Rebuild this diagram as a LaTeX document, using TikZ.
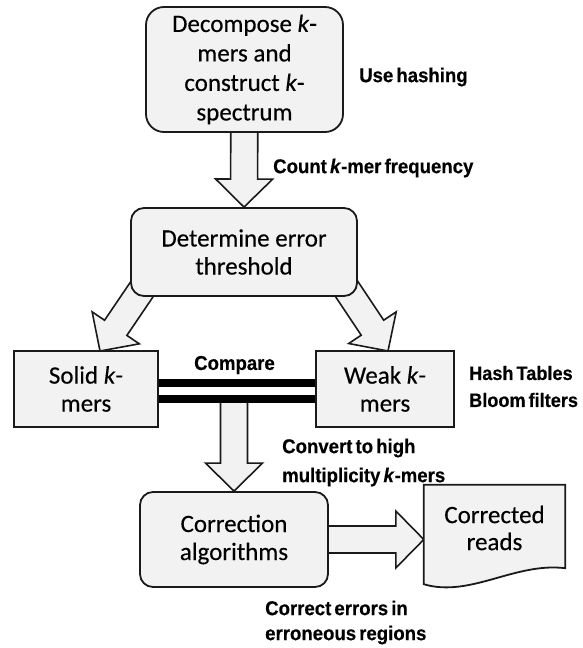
\documentclass[tikz,border=0pt]{standalone}
\usepackage{fontspec}
\setmainfont[FakeBold=0.3]{Carlito}
\newfontfamily\lblfont[FakeStretch=0.93,WordSpace=0.6,FakeBold=0.4]{Liberation Sans}
\usetikzlibrary{calc}
\definecolor{boxfill}{HTML}{F2F2F2}
\definecolor{edge}{HTML}{1A1A1A}
\pgfdeclarelayer{back}
\pgfsetlayers{back,main}

\tikzset{
  stage/.style={draw=edge, fill=boxfill, line width=1.8pt, align=center,
    font=\fontsize{25}{28}\selectfont, inner sep=0pt},
  roundstage/.style={stage, rounded corners=13pt},
  note/.style={font=\lblfont\bfseries\fontsize{20}{27}\selectfont, align=left,
    inner sep=0pt, anchor=west},
  fatarrow/.style={draw=edge, fill=boxfill, line width=1.6pt, line join=miter},
  bar/.style={line width=8pt, draw=black},
}

% hollow block arrow from #1 (tail) to #2 (tip)
\newcommand\blockarrow[2]{%
  \coordinate (ba-base) at ($(#2)!28pt!(#1)$);
  \draw[fatarrow] ($(#1)!13.5pt!90:(#2)$) -- ($(ba-base)!13.5pt!90:(#2)$)
    -- ($(ba-base)!28.5pt!90:(#2)$) -- (#2) -- ($(ba-base)!28.5pt!-90:(#2)$)
    -- ($(ba-base)!13.5pt!-90:(#2)$) -- ($(#1)!13.5pt!-90:(#2)$) -- cycle;
}

\begin{document}
\begin{tikzpicture}[x=1pt,y=-1pt]
\useasboundingbox (0,0) rectangle (582,648);

% process stages
\node[roundstage, rounded corners=18pt, minimum width=197pt, minimum height=125pt,
  font=\fontsize{25}{29.5}\selectfont] (decomp) at (244.5,69.5)
  {Decompose \textit{k}-\\mers and\\construct \textit{k}-\\spectrum};
\node[roundstage, minimum width=226pt, minimum height=88pt] (thresh) at (244,252)
  {Determine error\\threshold};
\node[stage, minimum width=144pt, minimum height=76pt] (solid) at (86,389)
  {Solid \textit{k}-\\mers};
\node[stage, minimum width=138pt, minimum height=76pt] (weak) at (385,389)
  {Weak \textit{k}-\\mers};
\node[roundstage, minimum width=188pt, minimum height=95pt] (corr) at (234,539.5)
  {Correction\\algorithms};
\node[align=center, font=\fontsize{25}{27}\selectfont, inner sep=0pt,
  minimum width=141pt, minimum height=86pt] (reads) at (494.5,528)
  {Corrected\\reads};

% side notes
\node[note] (hashing) at (359,77) {Use hashing};
\node[note] (count) at (273,168) {Count \textit{k}-mer frequency};
\node[note, anchor=center] (compare) at (234.5,365) {Compare};
\node[note, font=\lblfont\bfseries\fontsize{19.5}{27}\selectfont] (tables) at (469,386.5)
  {Hash Tables\\Bloom filters};
\node[note, font=\lblfont\bfseries\fontsize{20}{29}\selectfont] (convert) at (282,462.5)
  {Convert to high\\multiplicity \textit{k}-mers};
\node[note, font=\lblfont\bfseries\fontsize{20}{25}\selectfont] (fix) at (265,622.5)
  {Correct errors in\\erroneous regions};

% comparison bars between solid and weak k-mers
\draw[bar] ([yshift=6pt]solid.east) -- ([yshift=6pt]weak.west);
\draw[bar] ([yshift=-10pt]solid.east) -- ([yshift=-10pt]weak.west);

% arrow end points
\coordinate (split) at (234,399);
\coordinate (solidtail) at (158,265.5);
\coordinate (weaktail) at (331,265.5);
\coordinate (solidtip) at (100,351);
\coordinate (weaktip) at (388,351);
\coordinate (readsin) at (corr.east -| reads.west);

\begin{pgfonlayer}{back}
  \blockarrow{decomp.center}{thresh.north}
  \blockarrow{solidtail}{solidtip}
  \blockarrow{weaktail}{weaktip}
  \blockarrow{split}{corr.north}
  \blockarrow{corr.center}{readsin}
  % document outline with wavy lower edge
  \draw[draw=edge, fill=boxfill, line width=1.8pt, line join=miter]
    (reads.north west) -- (reads.north east) -- ($(reads.south east)+(0,-3)$)
    .. controls (515,562) and (470,598) .. ($(reads.south west)+(0,13)$) -- cycle;
\end{pgfonlayer}
\end{tikzpicture}
\end{document}
